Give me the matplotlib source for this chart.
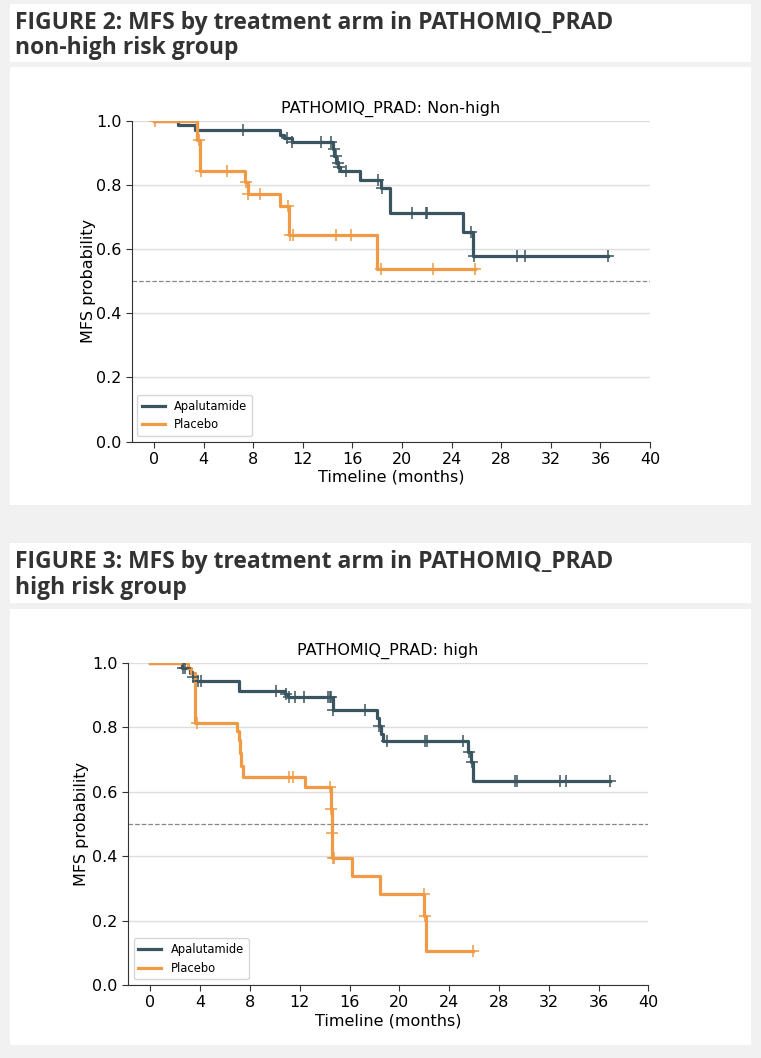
import numpy as np
import matplotlib
matplotlib.use("Agg")
import matplotlib.pyplot as plt
from matplotlib.patches import Rectangle

# ---------------- data ----------------
# Figure 2: non-high risk group
nh_apa_t = [0, 1.9, 3.3, 10.2, 10.5, 11.1, 14.4, 14.55, 14.7, 14.85, 15.0, 16.6, 18.3, 19.0, 24.9, 25.75]
nh_apa_s = [1.0, 0.986, 0.970, 0.956, 0.945, 0.934, 0.912, 0.890, 0.868, 0.855, 0.842, 0.816, 0.790, 0.712, 0.654, 0.580]
nh_apa_end = 36.6
nh_apa_cens = [7.2, 10.7, 11.15, 13.5, 14.3, 14.5, 14.65, 14.8, 14.95, 15.5, 18.1, 18.4,
               20.8, 21.9, 22.0, 25.6, 25.8, 29.3, 29.9, 36.6]

nh_pla_t = [0, 3.5, 3.7, 7.35, 7.55, 10.15, 10.9, 17.95]
nh_pla_s = [1.0, 0.940, 0.844, 0.810, 0.773, 0.735, 0.645, 0.537]
nh_pla_end = 25.9
nh_pla_cens = [0.1, 3.6, 3.8, 5.85, 7.45, 7.6, 8.55, 10.8, 10.95, 11.2, 14.7, 15.9, 18.3, 22.5, 25.9]

# Figure 3: high risk group
hi_apa_t = [0, 2.5, 3.2, 3.4, 3.6, 7.1, 10.85, 11.05, 14.65, 18.2, 18.35, 18.5, 18.65, 25.5, 25.75, 25.95]
hi_apa_s = [1.0, 0.985, 0.970, 0.958, 0.944, 0.913, 0.905, 0.895, 0.854, 0.830, 0.804, 0.780, 0.759, 0.725, 0.692, 0.634]
hi_apa_end = 36.9
hi_apa_cens = [2.6, 2.8, 3.45, 3.8, 4.1, 10.1, 10.9, 11.1, 11.6, 12.3, 14.3, 14.4, 14.5, 14.7, 17.2,
               18.4, 19.0, 22.1, 22.25, 25.15, 25.6, 25.8, 29.3, 29.45, 32.9, 33.4, 36.9]

hi_pla_t = [0, 3.05, 3.3, 3.6, 6.95, 7.1, 7.2, 7.3, 7.45, 12.45, 14.5, 14.55, 14.62, 16.2, 18.47, 22.0, 22.15]
hi_pla_s = [1.0, 0.984, 0.970, 0.815, 0.790, 0.760, 0.720, 0.680, 0.647, 0.616, 0.547, 0.473, 0.395, 0.338, 0.283, 0.214, 0.107]
hi_pla_end = 25.9
hi_pla_cens = [3.75, 11.1, 11.45, 14.45, 14.52, 14.57, 14.66, 14.75, 21.95, 22.1, 25.9]

arms = ["Apalutamide", "Placebo"]
yticks = [0.0, 0.2, 0.4, 0.6, 0.8, 1.0]
xticks = [0, 4, 8, 12, 16, 20, 24, 28, 32, 36, 40]

C_APA = "#3a5560"
C_PLA = "#f09a45"

W, H = 761, 1058
fig = plt.figure(figsize=(W / 100, H / 100), dpi=100)
fig.patch.set_facecolor("#f1f1f1")


def px_rect(x0, y0, x1, y1):
    fig.add_artist(Rectangle((x0 / W, 1 - y1 / H), (x1 - x0) / W, (y1 - y0) / H,
                             transform=fig.transFigure, facecolor="white",
                             edgecolor="none", zorder=0))


px_rect(10, 4, 751, 62)
px_rect(10, 67, 751, 505)
px_rect(10, 543, 751, 603)
px_rect(10, 609, 751, 1045)


def heading(line1, line2, y1):
    kw = dict(fontsize=16.5, fontweight="bold", color="#333333", family=["Open Sans", "DejaVu Sans"],
              va="baseline", ha="left", transform=fig.transFigure)
    fig.text(15 / W, 1 - y1 / H, line1, **kw)
    fig.text(15 / W, 1 - (y1 + 25.5) / H, line2, **kw)


heading("FIGURE 2: MFS by treatment arm in PATHOMIQ_PRAD", "non-high risk group", 29)
heading("FIGURE 3: MFS by treatment arm in PATHOMIQ_PRAD", "high risk group", 568)


def surv_at(t_arr, s_arr, t):
    t_arr = np.asarray(t_arr)
    idx = np.searchsorted(t_arr, t, side="right") - 1
    return np.asarray(s_arr)[idx]


def km_panel(rect, title, curves, ylabelpad):
    ax = fig.add_axes(rect)
    ax.set_facecolor("white")
    for (t, s, end, cens), color, lab in curves:
        x = list(t) + [end]
        y = list(s) + [s[-1]]
        ax.step(x, y, where="post", color=color, lw=2.3, label=lab, zorder=3)
        cy = [surv_at(t, s, c) for c in cens]
        ax.plot(cens, cy, ls="none", marker="+", ms=9, mew=1.1, color=color, zorder=4)
    ax.axhline(0.5, color="#888888", ls="--", lw=0.9, zorder=2)
    ax.set_xlim(-1.8, 40)
    ax.set_ylim(0, 1.0)
    ax.set_xticks(xticks)
    ax.set_yticks(yticks)
    ax.set_yticklabels([f"{v:.1f}" for v in yticks])
    ax.grid(axis="y", color="#dddddd", lw=1, zorder=1)
    ax.set_axisbelow(True)
    for sp in ["top", "right"]:
        ax.spines[sp].set_visible(False)
    for sp in ["left", "bottom"]:
        ax.spines[sp].set_color("#333333")
    ax.tick_params(labelsize=11.5, length=4, color="#333333")
    ax.set_xlabel("Timeline (months)", fontsize=11.5, labelpad=2)
    ax.set_ylabel("MFS probability", fontsize=11.5, labelpad=ylabelpad)
    ax.set_title(title, fontsize=11.5, pad=6)
    ax.legend(loc="lower left", fontsize=8.3, frameon=True, handlelength=2.0)
    return ax


km_panel([131.7 / W, 1 - 441.7 / H, (650 - 131.7) / W, (441.7 - 120.7) / H],
         "PATHOMIQ_PRAD: Non-high",
         [((nh_apa_t, nh_apa_s, nh_apa_end, nh_apa_cens), C_APA, arms[0]),
          ((nh_pla_t, nh_pla_s, nh_pla_end, nh_pla_cens), C_PLA, arms[1])], 0)

km_panel([128 / W, 1 - 985 / H, (648.3 - 128) / W, (985 - 663) / H],
         "PATHOMIQ_PRAD: high",
         [((hi_apa_t, hi_apa_s, hi_apa_end, hi_apa_cens), C_APA, arms[0]),
          ((hi_pla_t, hi_pla_s, hi_pla_end, hi_pla_cens), C_PLA, arms[1])], 2)

fig.savefig("out.png", dpi=100, facecolor=fig.get_facecolor())
